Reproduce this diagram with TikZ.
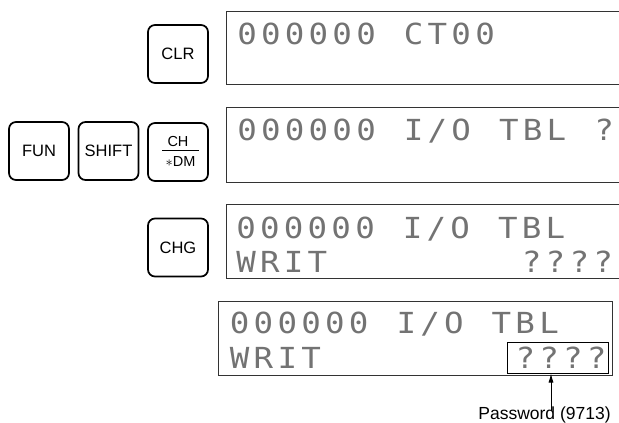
\documentclass[tikz,border=0pt]{standalone}
\usepackage{fontspec}
\setmainfont{Liberation Sans}
\newfontfamily\lcdfont[FakeStretch=1.12]{DejaVu Sans Mono}
\usetikzlibrary{arrows.meta}
\newlength\lcdw \setlength\lcdw{23.8pt}
\def\lcdrow#1{\lcdloop#1\relax}
\def\lcdloop#1{\ifx#1\relax\else\makebox[\lcdw][c]{#1}\expandafter\lcdloop\fi}
\tikzset{
  keybox/.style={draw, line width=1.7pt, rounded corners=7pt, minimum width=60pt,
    minimum height=58pt, inner sep=0pt, font=\fontsize{16.5}{19}\selectfont},
  lcdframe/.style={draw=black!80, line width=1pt},
  lcdtext/.style={anchor=base west, inner sep=0pt, text=black!55,
    font=\lcdfont\fontsize{29}{34}\selectfont},
  keylabel/.style={inner sep=0pt, anchor=base, font=\fontsize{14.5}{17}\selectfont},
}
\begin{document}
\begin{tikzpicture}[x=1pt,y=-1pt]
\useasboundingbox[fill=white] (0,0) rectangle (619,423);
% keys
\node[keybox] (clr) at (178,54) {CLR};
\node[keybox] (fun) at (39,151) {FUN};
\node[keybox] (shift) at (108.5,151) {SHIFT};
\node[keybox] (chdm) at (178,152) {};
\node[keylabel] (ch) at (178,146.5) {CH};
\node[keylabel] (dm) at (180.5,166) {$\ast$DM};
\draw[line width=1.5pt] (162,150.5) -- (199,150.5);
\node[keybox] (chg) at (178,247.5) {CHG};
% LCD 1
\draw[lcdframe] (619,11) -| (226,84) -- (619,84);
\node[lcdtext] (l1a) at (235,44) {\lcdrow{000000~CT00}};
% LCD 2
\draw[lcdframe] (619,107) -| (226,182) -- (619,182);
\node[lcdtext] (l2a) at (235,140) {\lcdrow{000000~I/O~TBL~?}};
% LCD 3
\draw[lcdframe] (619,204) -| (226,278) -- (619,278);
\node[lcdtext] (l3a) at (234,238) {\lcdrow{000000~I/O~TBL}};
\node[lcdtext] (l3b) at (234,272) {\lcdrow{WRIT~~~~~~~~????}};
% LCD 4
\draw[lcdframe] (218,301) rectangle (612,375);
\node[lcdtext] (l4a) at (227.6,333) {\lcdrow{000000~I/O~TBL}};
\node[lcdtext] (l4b) at (227.6,368) {\lcdrow{WRIT~~~~~~~~????}};
\node[draw=black, line width=1pt, minimum width=101pt, minimum height=31pt, inner sep=0pt] (pw) at (557.5,357.5) {};
% password label
\node[inner sep=0pt, anchor=base, font=\fontsize{17.5}{20}\selectfont] (pwlabel) at (544.5,419) {Password (9713)};
\coordinate (ax) at (551,0);
\draw[line width=0.9pt, -{Latex[length=9pt,width=5pt]}] ([yshift=-5pt]pwlabel.north -| ax) -- (pw.south -| ax);
\end{tikzpicture}
\end{document}
